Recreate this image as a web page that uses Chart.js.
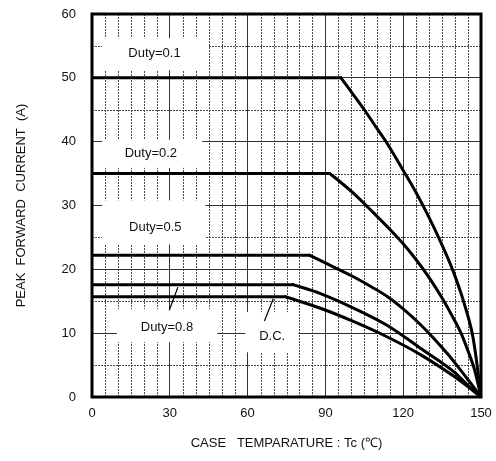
<!DOCTYPE html>
<html>
<head>
<meta charset="utf-8">
<script src="https://cdn.jsdelivr.net/npm/chart.js@4/dist/chart.umd.min.js"></script>
<style>
html,body{margin:0;padding:0;background:#fff;}
#wrap{width:496px;height:461px;}
</style>
</head>
<body>
<div id="wrap"><canvas id="c" width="496" height="461"></canvas></div>
<script>
// ---- Data ----
const xTicks = [0, 30, 60, 90, 120, 150];
const yTicks = [0, 10, 20, 30, 40, 50, 60];

const tempDuty01 = [0, 96, 100, 105, 110, 114, 120, 125, 130, 135, 139, 142, 144, 146.6, 148, 150];
const currDuty01 = [50, 50, 47.8, 45, 42, 39.6, 35.5, 32, 28.1, 23.8, 20, 16.6, 14, 10, 6.5, 0];

const tempDuty02 = [0, 91.7, 96, 101.7, 108.7, 115, 120, 125, 130, 135, 139, 142.3, 145, 147.5, 150];
const currDuty02 = [35, 35, 33.6, 31.6, 28.8, 26.2, 24.0, 21.5, 18.7, 15.5, 12.6, 10, 7.2, 4.3, 0];

const tempDuty05 = [0, 84, 88, 95, 101, 108, 114, 120, 127, 132, 137, 141, 145, 150];
const currDuty05 = [22.2, 22.2, 21.4, 20.0, 18.8, 17.2, 15.7, 13.8, 11.2, 9.1, 6.8, 4.8, 2.7, 0];

const tempDuty08 = [0, 77.6, 88.1, 101, 113.9, 126.8, 139.7, 145, 150];
const currDuty08 = [17.6, 17.6, 16.2, 13.9, 11.2, 7.6, 3.9, 1.8, 0];

const tempDC = [0, 74.6, 88.1, 101, 113.9, 126.8, 139.7, 145, 150];
const currDC = [15.7, 15.7, 13.9, 11.8, 9.4, 6.6, 3.2, 1.6, 0];

const seriesNames = ['Duty=0.1', 'Duty=0.2', 'Duty=0.5', 'Duty=0.8', 'D.C.'];

// label annotation positions in data units (box: x0,x1,y0,y1; text center; optional leader line)
const labelTexts = ['Duty=0.1', 'Duty=0.2', 'Duty=0.5', 'Duty=0.8', 'D.C.'];
const labelBoxes = [
  [3.9, 44.8, 51.2, 56.2],
  [3.9, 42.5, 35.9, 40.3],
  [3.9, 43.7, 23.9, 30.8],
  [9.6, 48.3, 8.6, 13.8],
  [59.1, 79.6, 7.0, 13.3]
];
const labelCenters = [[24.1, 53.8], [22.7, 38.1], [24.4, 26.6], [28.9, 10.9], [69.5, 9.5]];
const leaderLines = [null, null, null, [29.8, 13.6, 33.1, 17.2], [66.5, 11.9, 69.9, 15.4]];

// ---- Build datasets: flat part (straight) + derating part (smooth) ----
function pts(xs, ys){ return xs.map((x,i)=>({x:x, y:ys[i]})); }
const allX = [tempDuty01, tempDuty02, tempDuty05, tempDuty08, tempDC];
const allY = [currDuty01, currDuty02, currDuty05, currDuty08, currDC];
const datasets = [];
seriesNames.forEach((n,i)=>{
  const p = pts(allX[i], allY[i]);
  const common = { borderColor: '#000', borderWidth: 3, pointRadius: 0, fill: false,
                   borderJoinStyle: 'round', borderCapStyle: 'round' };
  datasets.push(Object.assign({ label: n, data: p.slice(0, 2), tension: 0 }, common));
  datasets.push(Object.assign({ label: n + ' derating', data: p.slice(1), cubicInterpolationMode: 'monotone' }, common));
});

const FONT = "'Liberation Sans', Arial, sans-serif";

const decor = {
  id: 'decor',
  beforeDatasetsDraw(chart){
    const ctx = chart.ctx, xs = chart.scales.x, ys = chart.scales.y;
    const ca = chart.chartArea;
    ctx.save();
    ctx.strokeStyle = '#4a4a4a';
    ctx.lineWidth = 1;
    ctx.setLineDash([2,1]);
    for (let v = 5; v < 150; v += 5){
      if (v % 30 === 0) continue;
      const px = Math.round(xs.getPixelForValue(v)) + 0.5;
      ctx.beginPath(); ctx.moveTo(px, ca.top); ctx.lineTo(px, ca.bottom); ctx.stroke();
    }
    for (let v = 5; v < 60; v += 5){
      if (v % 10 === 0) continue;
      const py = Math.round(ys.getPixelForValue(v)) + 0.5;
      ctx.beginPath(); ctx.moveTo(ca.left, py); ctx.lineTo(ca.right, py); ctx.stroke();
    }
    ctx.setLineDash([]);
    ctx.fillStyle = '#fff';
    labelBoxes.forEach(b=>{
      const x0 = xs.getPixelForValue(b[0]), x1 = xs.getPixelForValue(b[1]);
      const y0 = ys.getPixelForValue(b[2]), y1 = ys.getPixelForValue(b[3]);
      ctx.fillRect(x0, y1, x1-x0, y0-y1);
    });
    ctx.fillStyle = '#111';
    ctx.font = '13px ' + FONT;
    ctx.textAlign = 'center';
    ctx.textBaseline = 'middle';
    labelTexts.forEach((t,i)=>{
      ctx.fillText(t, xs.getPixelForValue(labelCenters[i][0]), ys.getPixelForValue(labelCenters[i][1]));
    });
    ctx.strokeStyle = '#000';
    ctx.lineWidth = 1.2;
    leaderLines.forEach(l=>{
      if(!l) return;
      ctx.beginPath();
      ctx.moveTo(xs.getPixelForValue(l[0]), ys.getPixelForValue(l[1]));
      ctx.lineTo(xs.getPixelForValue(l[2]), ys.getPixelForValue(l[3]));
      ctx.stroke();
    });
    ctx.restore();
  },
  afterDatasetsDraw(chart){
    const ctx = chart.ctx, ca = chart.chartArea;
    ctx.save();
    ctx.strokeStyle = '#000';
    ctx.lineWidth = 3;
    ctx.strokeRect(ca.left, ca.top, ca.right-ca.left, ca.bottom-ca.top);
    ctx.restore();
  }
};

new Chart(document.getElementById('c'), {
  type: 'line',
  data: { datasets },
  options: {
    responsive: false,
    animation: false,
    layout: { padding: { top: 14, right: 15, left: 0, bottom: 0 } },
    plugins: { legend: { display: false }, tooltip: { enabled: false } },
    scales: {
      x: {
        type: 'linear', min: 0, max: 150,
        afterBuildTicks(s){ s.ticks = xTicks.map(v=>({value:v})); },
        afterFit(s){ s.height = 64; s.paddingLeft = 0; s.paddingRight = 0; },
        grid: { color: '#333', lineWidth: 1, drawTicks: false },
        border: { display: false },
        ticks: { color: '#111', font: { family: FONT, size: 13 }, padding: 9, maxRotation: 0 },
        title: { display: true, text: 'CASE   TEMPARATURE : Tc (\u2103)', color: '#111',
                 font: { family: FONT, size: 13 }, padding: { top: 0, bottom: 10 } }
      },
      y: {
        type: 'linear', min: 0, max: 60,
        afterBuildTicks(s){ s.ticks = yTicks.map(v=>({value:v})); },
        afterFit(s){ s.width = 92; s.paddingTop = 0; s.paddingBottom = 0; },
        grid: { color: '#333', lineWidth: 1, drawTicks: false },
        border: { display: false },
        ticks: { color: '#111', font: { family: FONT, size: 13 }, padding: 16 },
        title: { display: true, text: 'PEAK  FORWARD  CURRENT  (A)', color: '#111',
                 font: { family: FONT, size: 13 }, padding: { top: 14, bottom: 0 } }
      }
    }
  },
  plugins: [decor]
});
</script>
</body>
</html>
